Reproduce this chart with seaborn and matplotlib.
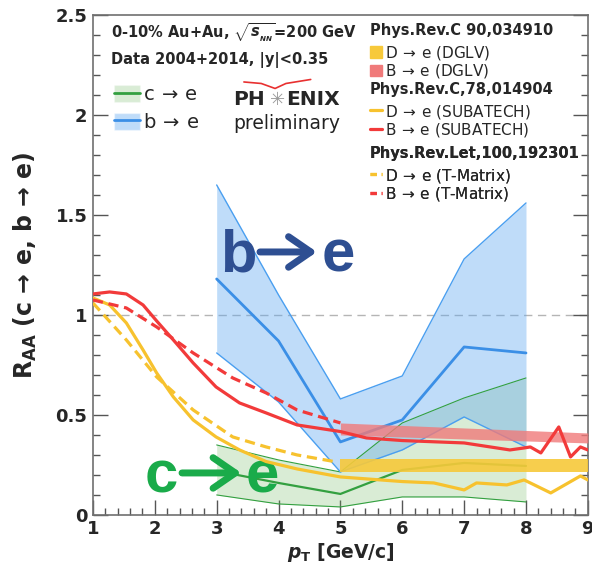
import matplotlib
matplotlib.use("Agg")
import matplotlib.pyplot as plt
import pandas as pd
import seaborn as sns
import numpy as np
from matplotlib.patches import Patch
from matplotlib.lines import Line2D
from matplotlib.ticker import MultipleLocator

# PHENIX data points (heavy flavour electrons)
pt_data = [3, 4, 5, 6, 7, 8]
b_center = [1.18, 0.87, 0.365, 0.475, 0.84, 0.81]
b_low = [0.81, 0.565, 0.215, 0.325, 0.49, 0.34]
b_high = [1.65, 1.10, 0.58, 0.695, 1.28, 1.56]
c_center = [0.22, 0.16, 0.105, 0.225, 0.26, 0.245]
c_low = [0.10, 0.055, 0.04, 0.09, 0.09, 0.065]
c_high = [0.35, 0.275, 0.215, 0.46, 0.585, 0.685]

# SUBATECH curves
sub_b_pt = [1.0, 1.27, 1.54, 1.81, 2.03, 2.30, 2.62, 2.99, 3.37, 3.80, 4.3, 5.0,
            5.42, 6.0, 7.0, 7.74, 7.97, 8.07, 8.24, 8.53, 8.72, 8.88, 9.0]
sub_b = [1.105, 1.115, 1.105, 1.05, 0.97, 0.875, 0.76, 0.64, 0.56, 0.51, 0.45, 0.417,
         0.385, 0.372, 0.36, 0.325, 0.335, 0.34, 0.31, 0.44, 0.29, 0.34, 0.325]
sub_d_pt = [1.0, 1.27, 1.54, 1.81, 2.03, 2.30, 2.62, 2.99, 3.37, 3.80, 4.3, 5.0,
            6.0, 6.51, 7.0, 7.2, 7.69, 7.97, 8.07, 8.40, 8.88, 9.0]
sub_d = [1.085, 1.05, 0.96, 0.825, 0.71, 0.59, 0.475, 0.39, 0.325, 0.267, 0.23, 0.19,
         0.167, 0.16, 0.125, 0.16, 0.15, 0.175, 0.16, 0.11, 0.195, 0.175]

# T-Matrix curves
tm_b_pt = [1.0, 1.54, 2.03, 2.62, 3.26, 3.80, 4.3, 5.0]
tm_b = [1.075, 1.035, 0.94, 0.81, 0.685, 0.61, 0.525, 0.46]
tm_d_pt = [1.0, 1.54, 2.03, 2.62, 3.26, 3.80, 4.3, 4.9]
tm_d = [1.06, 0.875, 0.69, 0.525, 0.39, 0.34, 0.30, 0.267]

# DGLV bands
dglv_pt = [5, 9]
dglv_b_low = [0.40, 0.36]
dglv_b_high = [0.46, 0.41]
dglv_d_low = [0.215, 0.215]
dglv_d_high = [0.28, 0.28]

RED = '#f23a3a'
YEL = '#f7c22e'
GREEN = '#33a040'
BLUE = '#3b8fe6'
ARR = r'$\,\mathsf{\rightarrow}\,$'

sns.set_style('ticks')
plt.rcParams['font.family'] = ['DejaVu Sans']
plt.rcParams['mathtext.fontset'] = 'custom'
plt.rcParams['mathtext.rm'] = 'DejaVu Sans:bold'
plt.rcParams['mathtext.bf'] = 'DejaVu Sans:bold'
plt.rcParams['mathtext.it'] = 'DejaVu Sans:bold:italic'
plt.rcParams['mathtext.sf'] = 'DejaVu Sans'

fig = plt.figure(figsize=(5.92, 5.76), dpi=100)
fig.patch.set_facecolor('white')
ax = fig.add_axes([0.157, 0.106, 0.836, 0.868])

# data bands
ax.fill_between(pt_data, c_low, c_high, color='#6ab45a', alpha=0.25, lw=0, zorder=1)
ax.plot(pt_data, c_low, color=GREEN, lw=0.8, zorder=2)
ax.plot(pt_data, c_high, color=GREEN, lw=0.8, zorder=2)
ax.fill_between(pt_data, b_low, b_high, color='#5fa8f0', alpha=0.4, lw=0, zorder=1)
ax.plot(pt_data, b_low, color='#4a9ff0', lw=1, zorder=2)
ax.plot(pt_data, b_high, color='#4a9ff0', lw=1, zorder=2)
sns.lineplot(x=pt_data, y=c_center, color=GREEN, lw=1.6, ax=ax, zorder=3)
sns.lineplot(x=pt_data, y=b_center, color=BLUE, lw=2, ax=ax, zorder=3)

# DGLV bands
ax.fill_between(dglv_pt, dglv_b_low, dglv_b_high, color='#f07a7a', alpha=0.8, lw=0, zorder=4)
ax.fill_between(dglv_pt, dglv_d_low, dglv_d_high, color='#f7c93a', alpha=0.9, lw=0, zorder=4)

# theory curves
sub = pd.DataFrame({'pt': sub_b_pt, 'raa': sub_b})
sns.lineplot(data=sub, x='pt', y='raa', color=RED, lw=2.3, ax=ax, zorder=5)
sub = pd.DataFrame({'pt': sub_d_pt, 'raa': sub_d})
sns.lineplot(data=sub, x='pt', y='raa', color=YEL, lw=2.3, ax=ax, zorder=5)
tm = pd.DataFrame({'pt': tm_b_pt, 'raa': tm_b})
sns.lineplot(data=tm, x='pt', y='raa', color=RED, lw=2.3, ax=ax, zorder=5,
             linestyle=(0, (3.2, 1.8)))
tm = pd.DataFrame({'pt': tm_d_pt, 'raa': tm_d})
sns.lineplot(data=tm, x='pt', y='raa', color=YEL, lw=2.3, ax=ax, zorder=5,
             linestyle=(0, (3.2, 1.8)))

ax.axhline(1, color='#b5b5b5', lw=1, ls=(0, (6, 4)), zorder=0)

# axes
ax.set_xlim(1, 9)
ax.set_ylim(0, 2.5)
ax.set_xticks(range(1, 10))
ax.set_yticks([0, 0.5, 1, 1.5, 2, 2.5])
ax.set_yticklabels(['0', '0.5', '1', '1.5', '2', '2.5'])
ax.xaxis.set_minor_locator(MultipleLocator(0.2))
ax.yaxis.set_minor_locator(MultipleLocator(0.1))
ax.tick_params(which='both', direction='in', right=True, top=False, width=1, color='#555555')
ax.tick_params(which='major', length=11, labelsize=13, pad=4)
ax.tick_params(which='minor', length=5)
for lab in ax.get_xticklabels() + ax.get_yticklabels():
    lab.set_fontweight('bold')
for sp in ax.spines.values():
    sp.set_color('#707070')
    sp.set_linewidth(1.2)
    sp.set_visible(True)

ax.set_xlabel(r'$p_{\mathrm{T}}$ [GeV/c]', fontsize=13.5, fontweight='bold', labelpad=2)
ax.set_ylabel(r'R$_{\mathrm{AA}}$ (c → e, b → e)', fontsize=17, fontweight='bold')
ax.yaxis.set_label_coords(-0.11, 0.5)

# big labels
big = dict(fontsize=43, fontweight='bold', family='Liberation Sans', va='baseline', ha='left')
ax.text(3.05, 1.215, 'b', color='#2e4f92', **big)
ax.text(4.70, 1.215, 'e', color='#2e4f92', **big)
ax.annotate('', xy=(4.62, 1.315), xytext=(3.70, 1.315),
            arrowprops=dict(arrowstyle='->,head_length=0.8,head_width=0.55', lw=5,
                            color='#2e4f92', shrinkA=0, shrinkB=0, mutation_scale=20))
ax.text(1.84, 0.11, 'c', color='#1aab4a', **big)
ax.text(3.46, 0.11, 'e', color='#1aab4a', **big)
ax.annotate('', xy=(3.40, 0.21), xytext=(2.44, 0.21),
            arrowprops=dict(arrowstyle='->,head_length=0.8,head_width=0.55', lw=5,
                            color='#1aab4a', shrinkA=0, shrinkB=0, mutation_scale=20))

# top-left text
ax.text(0.036, 0.964, r'0-10% Au+Au, $\sqrt{s_{_{NN}}}$=200 GeV', transform=ax.transAxes,
        fontsize=10.5, fontweight='bold', va='center')
ax.text(0.036, 0.91, 'Data 2004+2014, |y|<0.35', transform=ax.transAxes,
        fontsize=10.5, fontweight='bold', va='center')

# PHENIX logo
ax.text(0.283, 0.83, 'PH', transform=ax.transAxes, fontsize=14.5, fontweight='bold', va='center')
ax.text(0.373, 0.83, '✳', transform=ax.transAxes, fontsize=13, color='#9a9a9a', va='center', ha='center')
ax.text(0.39, 0.83, 'ENIX', transform=ax.transAxes, fontsize=14.5, fontweight='bold', va='center')
ax.text(0.283, 0.782, 'preliminary', transform=ax.transAxes, fontsize=13.5, va='center', color='#222222')
ax.plot([0.305, 0.34, 0.368, 0.39, 0.44], [0.866, 0.863, 0.853, 0.863, 0.871],
        transform=ax.transAxes, color='#e83030', lw=1.2)

# data legend
h_c = (Patch(facecolor='#6ab45a', alpha=0.25), Line2D([], [], color=GREEN, lw=2))
h_b = (Patch(facecolor='#5fa8f0', alpha=0.4), Line2D([], [], color=BLUE, lw=2))
leg0 = ax.legend([h_c, h_b], ['c' + ARR + 'e', 'b' + ARR + 'e'], loc='upper left',
                 bbox_to_anchor=(0.043, 0.86), frameon=False, fontsize=14, handlelength=1.3,
                 handleheight=0.95, labelspacing=0.45, borderpad=0, borderaxespad=0,
                 handletextpad=0.2)
ax.add_artist(leg0)

# theory legends
def theory_legend(handles, labels, title, y):
    lg = ax.legend(handles, labels, title=title, loc='upper left', bbox_to_anchor=(0.56, y),
                   frameon=False, fontsize=11, alignment='left', handlelength=0.8,
                   handleheight=0.8, labelspacing=0.05, borderpad=0, borderaxespad=0,
                   handletextpad=0.15, title_fontproperties={'weight': 'bold', 'size': 10.5})
    lg._legend_box.sep = 4
    ax.add_artist(lg)
    return lg

theory_legend([Patch(color='#f7c93a'), Patch(color='#f07a7a')],
              ['D' + ARR + 'e (DGLV)', 'B' + ARR + 'e (DGLV)'], 'Phys.Rev.C 90,034910', 0.984)
theory_legend([Line2D([], [], color=YEL, lw=2.3), Line2D([], [], color=RED, lw=2.3)],
              ['D' + ARR + 'e (SUBATECH)', 'B' + ARR + 'e (SUBATECH)'],
              'Phys.Rev.C,78,014904', 0.866)
theory_legend([Line2D([], [], color=YEL, lw=2.3, ls=(0, (2, 1.5))),
               Line2D([], [], color=RED, lw=2.3, ls=(0, (2, 1.5)))],
              ['D' + ARR + 'e (T-Matrix)', 'B' + ARR + 'e (T-Matrix)'],
              'Phys.Rev.Let,100,192301', 0.738)

fig.savefig('out.png', dpi=100, facecolor='white')
